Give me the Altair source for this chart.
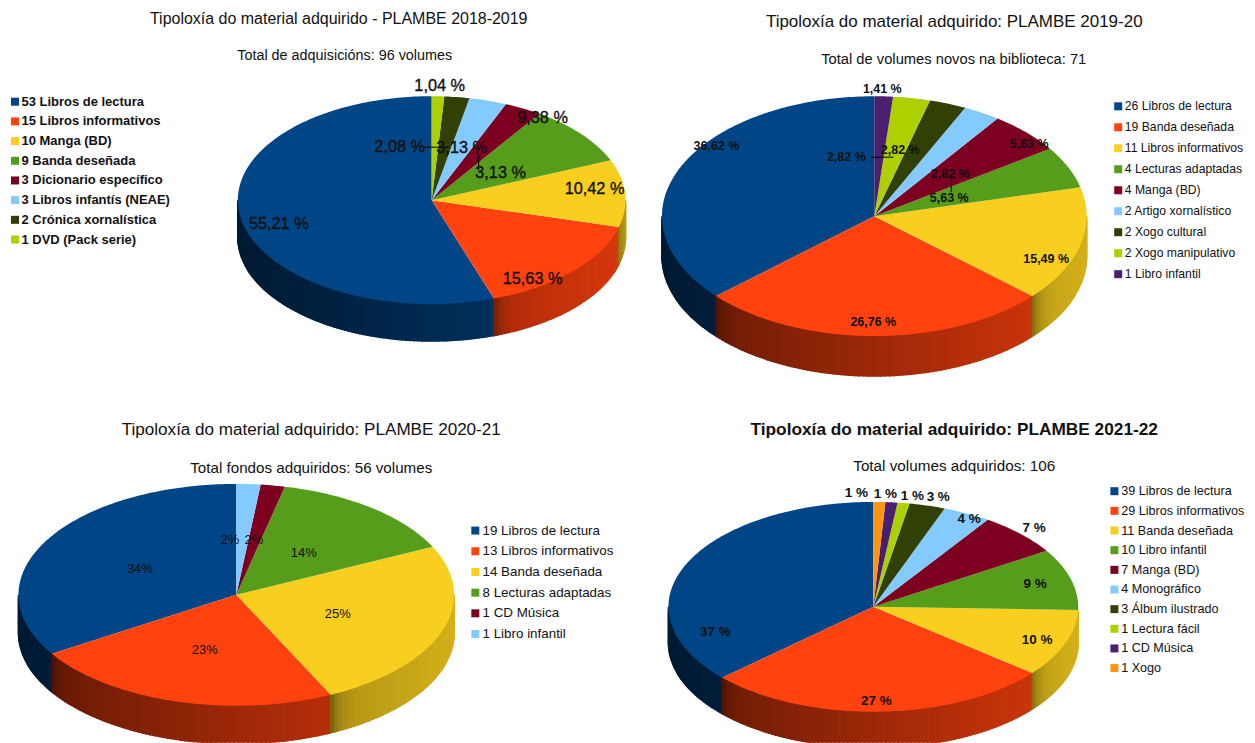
import math
import altair as alt

PALETTE = {"blue": "#004586", "red": "#ff420e", "yellow": "#f9cf1f", "green": "#579d1c",
           "maroon": "#7e0021", "sky": "#83caff", "dark": "#314004", "lime": "#aecf00",
           "purple": "#4b1f6f", "orange": "#ff950e"}

NAMES_1 = ["Libros de lectura", "Libros informativos", "Manga (BD)", "Banda deseñada",
           "Dicionario específico", "Libros infantís (NEAE)", "Crónica xornalística", "DVD (Pack serie)"]
VALUES_1 = [53, 15, 10, 9, 3, 3, 2, 1]
COLORS_1 = ["blue", "red", "yellow", "green", "maroon", "sky", "dark", "lime"]

NAMES_2 = ["Libros de lectura", "Banda deseñada", "Libros informativos", "Lecturas adaptadas",
           "Manga (BD)", "Artigo xornalístico", "Xogo cultural", "Xogo manipulativo", "Libro infantil"]
VALUES_2 = [26, 19, 11, 4, 4, 2, 2, 2, 1]
COLORS_2 = ["blue", "red", "yellow", "green", "maroon", "sky", "dark", "lime", "purple"]

NAMES_3 = ["Libros de lectura", "Libros informativos", "Banda deseñada", "Lecturas adaptadas",
           "CD Música", "Libro infantil"]
VALUES_3 = [19, 13, 14, 8, 1, 1]
COLORS_3 = ["blue", "red", "yellow", "green", "maroon", "sky"]

NAMES_4 = ["Libros de lectura", "Libros informativos", "Banda deseñada", "Libro infantil", "Manga (BD)",
           "Monográfico", "Álbum ilustrado", "Lectura fácil", "CD Música", "Xogo"]
VALUES_4 = [39, 29, 11, 10, 7, 4, 3, 1, 1, 1]
COLORS_4 = ["blue", "red", "yellow", "green", "maroon", "sky", "dark", "lime", "purple", "orange"]

PANELS = [
    dict(names=NAMES_1, values=VALUES_1, colors=COLORS_1, origin=(8, 8), size=(632, 407),
         cx=431, cy=200, rx=194, ry=104, depth=37,
         title="Tipoloxía do material adquirido - PLAMBE 2018-2019", title_xy=(338, 19), title_size=16,
         title_bold=False,
         sub="Total de adquisicións: 96 volumes", sub_xy=(344, 56), sub_size=14.4,
         legend_xy=(7.5, 95), legend_font=13, legend_pad=5.7, legend_offset=0, legend_bold=True,
         label_size=16.3, label_bold=False, label_stroke=0.35,
         labels=[("1,04 %", 439, 86), ("9,38 %", 542, 118), ("2,08 %", 399, 147), ("3,13 %", 461, 148),
                 ("3,13 %", 500, 173), ("10,42 %", 594, 189), ("55,21 %", 278, 224), ("15,63 %", 532, 279)],
         leaders=[(423, 147, 449, 147), (478, 155, 478, 170)]),
    dict(names=NAMES_2, values=VALUES_2, colors=COLORS_2, origin=(640, 8), size=(607, 407),
         cx=874, cy=216, rx=212.5, ry=120, depth=40,
         title="Tipoloxía do material adquirido: PLAMBE 2019-20", title_xy=(954, 22), title_size=17,
         title_bold=False,
         sub="Total de volumes novos na biblioteca: 71", sub_xy=(953.5, 60), sub_size=14.75,
         legend_xy=(1112, 100), legend_font=12.2, legend_pad=8, legend_offset=0.5, legend_bold=False,
         label_size=12.5, label_bold=True, label_stroke=0,
         labels=[("1,41 %", 882, 89), ("36,62 %", 716, 146), ("2,82 %", 846, 157), ("2,82 %", 900, 150),
                 ("2,82 %", 950, 174), ("5,63 %", 1029, 144), ("5,63 %", 949, 198), ("15,49 %", 1046, 259),
                 ("26,76 %", 873, 322)],
         leaders=[(870, 157, 893, 157), (951, 178, 951, 192)]),
    dict(names=NAMES_3, values=VALUES_3, colors=COLORS_3, origin=(8, 415), size=(632, 328),
         cx=235.5, cy=595, rx=218, ry=111, depth=38,
         title="Tipoloxía do material adquirido: PLAMBE 2020-21", title_xy=(310.5, 430), title_size=17.1,
         title_bold=False,
         sub="Total fondos adquiridos: 56 volumes", sub_xy=(310.5, 468), sub_size=15.2,
         legend_xy=(468, 524), legend_font=13.4, legend_pad=5.7, legend_offset=0.5, legend_bold=False,
         label_size=13, label_bold=False, label_stroke=0,
         labels=[("34%", 139, 569), ("2%", 229, 540), ("2%", 253, 540), ("14%", 303, 553),
                 ("25%", 337, 614), ("23%", 204, 650)],
         leaders=[]),
    dict(names=NAMES_4, values=VALUES_4, colors=COLORS_4, origin=(640, 415), size=(607, 328),
         cx=873, cy=607, rx=205, ry=105, depth=36,
         title="Tipoloxía do material adquirido: PLAMBE 2021-22", title_xy=(954, 430), title_size=17.3,
         title_bold=True,
         sub="Total volumes adquiridos: 106", sub_xy=(954, 466), sub_size=15.3,
         legend_xy=(1108, 485), legend_font=12.6, legend_pad=6.67, legend_offset=0.5, legend_bold=False,
         label_size=13.5, label_bold=True, label_stroke=0,
         labels=[("1 %", 856, 493), ("1 %", 885, 494), ("1 %", 912, 496), ("3 %", 938, 497), ("4 %", 969, 519),
                 ("7 %", 1034, 528), ("9 %", 1035, 584), ("10 %", 1037, 640), ("37 %", 715, 632),
                 ("27 %", 876, 701)],
         leaders=[]),
]

FONT = "Liberation Sans"


def rim(p, deg):
    a = math.radians(deg)
    return (p["cx"] - p["rx"] * math.sin(a), p["cy"] - p["ry"] * math.cos(a))


def shade(hex_color, f):
    rgb = [int(hex_color[i:i + 2], 16) for i in (1, 3, 5)]
    return "#" + "".join(f"{min(255, int(c * f)):02x}" for c in rgb)


def feature(points, origin, **props):
    ring = [[x - origin[0], y - origin[1]] for x, y in points]
    ring.append(ring[0])
    return {"type": "Feature", "properties": props, "geometry": {"type": "Polygon", "coordinates": [ring]}}


def sectors(p):
    total = sum(p["values"])
    start = 0.0
    out = []
    for v, n, c in zip(p["values"], p["names"], p["colors"]):
        end = start + 360.0 * v / total
        out.append((start, end, f"{v} {n}", PALETTE[c]))
        start = end
    return out


def build(p):
    ox, oy = p["origin"]
    tops, walls = [], []
    domain, colour_range = [], []
    for a0, a1, label, colour in sectors(p):
        domain.append(label)
        colour_range.append(colour)
        n = max(2, int((a1 - a0) / 1.0) + 1)
        pts = [(p["cx"], p["cy"])] + [rim(p, a0 + (a1 - a0) * i / n) for i in range(n + 1)]
        tops.append(feature(pts, p["origin"], cat=label))
        w0, w1 = max(a0, 90.0), min(a1, 270.0)
        left = rim(p, w0)[0]
        if w1 > w0 and rim(p, w1)[0] - left > 1:
            m = max(2, int((w1 - w0) / 1.2) + 1)
            for i in range(m):
                b0 = w0 + (w1 - w0) * i / m
                b1 = w0 + (w1 - w0) * (i + 1) / m
                q0, q1 = rim(p, b0), rim(p, b1)
                u = ((q0[0] + q1[0]) / 2 - p["cx"] + p["rx"]) / (2 * p["rx"])
                f = 0.38 + 0.47 * u
                if a0 > 90.0:
                    f *= 1 - 0.3 * math.exp(-(q0[0] - left) / 8.0)
                quad = [q0, q1, (q1[0], q1[1] + p["depth"]), (q0[0], q0[1] + p["depth"])]
                walls.append(feature(quad, p["origin"], tone=shade(colour, f)))

    w, h = p["size"]
    wall_layer = alt.Chart(alt.Data(values=walls)).mark_geoshape(strokeWidth=1.5).encode(
        color=alt.Color("properties.tone:N", scale=None),
        stroke=alt.Stroke("properties.tone:N", scale=None),
    ).project(type="identity", scale=1, translate=[0, 0])

    lx, ly = p["legend_xy"]
    top_layer = alt.Chart(alt.Data(values=tops)).mark_geoshape().encode(
        color=alt.Color(
            "properties.cat:N",
            scale=alt.Scale(domain=domain, range=colour_range),
            legend=alt.Legend(
                orient="none", legendX=lx - ox, legendY=ly - oy, title=None, symbolType="square",
                symbolSize=64, symbolStrokeWidth=0, labelFont=FONT, labelFontSize=p["legend_font"],
                labelLimit=300, labelColor="#111111", labelOffset=p["legend_offset"],
                rowPadding=p["legend_pad"], padding=0,
                labelFontWeight="bold" if p["legend_bold"] else "normal",
            ),
        )
    ).project(type="identity", scale=1, translate=[0, 0])

    def text_layer(rows, size, bold, outline=0.0, color="#111111"):
        style = dict(font=FONT, fontSize=size, fontWeight="bold" if bold else "normal",
                     align="center", baseline="middle", color=color)
        if outline:
            style.update(stroke=color, strokeWidth=outline)
        return alt.Chart(alt.Data(values=rows)).mark_text(**style).encode(
            x=alt.X("x:Q", scale=None, axis=None),
            y=alt.Y("y:Q", scale=None, axis=None),
            text="t:N",
        )

    layers = [wall_layer, top_layer]
    if p["leaders"]:
        rows = [dict(x=a - ox, y=b - oy, x2=c - ox, y2=d - oy) for a, b, c, d in p["leaders"]]
        layers.append(alt.Chart(alt.Data(values=rows)).mark_rule(color="#000000", strokeWidth=1).encode(
            x=alt.X("x:Q", scale=None, axis=None), x2="x2:Q",
            y=alt.Y("y:Q", scale=None, axis=None), y2="y2:Q",
        ))
    label_rows = [dict(t=t, x=x - ox, y=y - oy) for t, x, y in p["labels"]]
    layers.append(text_layer(label_rows, p["label_size"], p["label_bold"], p["label_stroke"]))
    layers.append(text_layer([dict(t=p["title"], x=p["title_xy"][0] - ox, y=p["title_xy"][1] - oy)],
                             p["title_size"], p["title_bold"]))
    layers.append(text_layer([dict(t=p["sub"], x=p["sub_xy"][0] - ox, y=p["sub_xy"][1] - oy)],
                             p["sub_size"], False))
    return alt.layer(*layers).properties(width=w, height=h)


chart = alt.concat(*[build(p) for p in PANELS], columns=2, spacing=0).resolve_scale(
    color="independent", stroke="independent"
).properties(padding=0, background="white").configure_view(stroke=None)

chart.save("out.html", embed_options={"renderer": "svg", "actions": False})
